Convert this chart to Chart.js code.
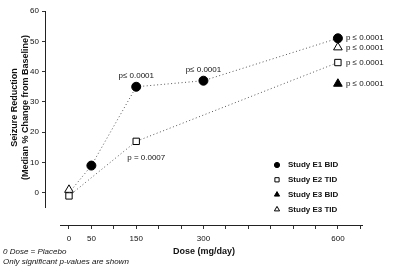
<!DOCTYPE html>
<html lang="en">
<head>
  <meta charset="UTF-8" />
  <title>Seizure Reduction by Dose</title>
  <style>
    body { margin: 0; background: #fff; }
    #wrap { width: 400px; height: 274px; }
  </style>
</head>
<body>
  <div id="wrap"><canvas id="doseChart" width="400" height="274"></canvas></div>

  <script src="https://cdn.jsdelivr.net/npm/chart.js"></script>
  <script>
    // values
    const doses = [0, 50, 150, 300, 600];
    const e1Bid = [0, 9, 35, 37, 51];
    const e2Tid = [-1, null, 17, null, 43];
    const e3Bid = [null, null, null, null, 36];
    const e3Tid = [1, null, null, null, 48];
    const seriesNames = ['Study E1 BID', 'Study E2 TID', 'Study E3 BID', 'Study E3 TID'];
    const yTicks = [0, 10, 20, 30, 40, 50, 60];
    const xTicks = [0, 50, 100, 150, 200, 250, 300, 350, 400, 450, 500, 550, 600, 650];
    const xLabels = [0, 50, 150, 300, 600];
    const yTitle = ['Seizure Reduction', '(Median % Change from Baseline)'];
    const footnotes = ['0 Dose = Placebo', 'Only significant p-values are shown'];
    // [series, dose, text]
    const pValues = [
      [0, 150, 'p\u2264 0.0001'],
      [0, 300, 'p\u2264 0.0001'],
      [1, 150, 'p = 0.0007'],
      [0, 600, 'p \u2264 0.0001'],
      [3, 600, 'p \u2264 0.0001'],
      [1, 600, 'p \u2264 0.0001'],
      [2, 600, 'p \u2264 0.0001']
    ];

    const FONT = 'Arial, "Liberation Sans", sans-serif';
    const toPoints = arr => doses.map((d, i) => ({ x: d, y: arr[i] })).filter(p => p.y !== null);

    const markers = [
      { pointStyle: 'circle', radius: 4.5, fill: '#000' },
      { pointStyle: 'rect', radius: 4.5, fill: '#fff' },
      { pointStyle: 'triangle', radius: 5, fill: '#000' },
      { pointStyle: 'triangle', radius: 5, fill: '#fff' }
    ];
    const seriesData = [e1Bid, e2Tid, e3Bid, e3Tid];

    const datasets = seriesData.map((arr, s) => ({
      label: seriesNames[s],
      data: toPoints(arr),
      showLine: s < 2,
      spanGaps: true,
      borderColor: '#555',
      borderWidth: 1,
      borderDash: [1, 2.5],
      pointStyle: markers[s].pointStyle,
      // the E1 line starts at placebo, where no marker is shown
      pointRadius: s === 0 ? toPoints(arr).map(p => p.x === 0 ? 0 : markers[s].radius) : markers[s].radius,
      pointBackgroundColor: markers[s].fill,
      pointBorderColor: '#000',
      pointBorderWidth: 1
    }));

    const extras = {
      id: 'extras',
      beforeDatasetsDraw(chart) {
        const { ctx, scales: { x, y } } = chart;
        ctx.save();
        ctx.strokeStyle = '#222';
        ctx.lineWidth = 1;
        ctx.beginPath();
        // y axis stops short of the x axis, x axis starts right of the y axis
        const ax = Math.round(x.left) + 0.5;
        ctx.moveTo(ax, y.getPixelForValue(60));
        ctx.lineTo(ax, y.getPixelForValue(-5));
        const ay = Math.round(y.bottom) + 0.5;
        ctx.moveTo(x.getPixelForValue(-20), ay);
        ctx.lineTo(x.getPixelForValue(656), ay);
        ctx.stroke();

        // y title, centred on the drawn part of the y axis
        ctx.fillStyle = '#111';
        ctx.font = 'bold 9px ' + FONT;
        ctx.textAlign = 'center';
        ctx.textBaseline = 'middle';
        ctx.translate(15, (y.getPixelForValue(60) + y.getPixelForValue(-5)) / 2 - 2);
        ctx.rotate(-Math.PI / 2);
        yTitle.forEach((t, i) => ctx.fillText(t, 0, i * 11));
        ctx.restore();
      },
      afterDraw(chart) {
        const { ctx, scales: { x, y } } = chart;
        ctx.save();
        ctx.fillStyle = '#111';
        ctx.font = '8px ' + FONT;
        ctx.textBaseline = 'middle';
        pValues.forEach(([s, dose, text]) => {
          const v = seriesData[s][doses.indexOf(dose)];
          const px = x.getPixelForValue(dose);
          const py = y.getPixelForValue(v);
          if (dose === 600) {
            ctx.textAlign = 'left';
            ctx.fillText(text, px + 8, py);
          } else if (s === 1) {
            ctx.textAlign = 'left';
            ctx.fillText(text, px - 9, py + 16);
          } else {
            ctx.textAlign = 'center';
            ctx.fillText(text, px, py - 11);
          }
        });

        // legend
        const lx = 277, ly = 165, step = 14.8;
        seriesNames.forEach((name, s) => {
          const cy = ly + s * step;
          ctx.fillStyle = markers[s].fill;
          ctx.strokeStyle = '#000';
          ctx.lineWidth = 1;
          Chart.helpers.drawPoint(ctx, { pointStyle: markers[s].pointStyle, radius: s === 0 ? 2.6 : 3, borderWidth: 1, rotation: 0 }, lx, cy);
          ctx.fillStyle = '#111';
          ctx.textAlign = 'left';
          ctx.font = 'bold 8px ' + FONT;
          ctx.fillText(name, lx + 11, cy);
        });

        // footnotes
        ctx.font = 'italic 8px ' + FONT;
        ctx.textAlign = 'left';
        footnotes.forEach((t, i) => ctx.fillText(t, 3, 252 + i * 10));
        ctx.restore();
      }
    };

    new Chart(document.getElementById('doseChart'), {
      type: 'scatter',
      data: { datasets },
      plugins: [extras],
      options: {
        responsive: false,
        animation: false,
        devicePixelRatio: 1,
        layout: { padding: { left: 2, top: 11, right: 37, bottom: 0 } },
        plugins: { legend: { display: false }, tooltip: { enabled: false } },
        scales: {
          x: {
            type: 'linear',
            min: -53.5,
            max: 656,
            afterBuildTicks: s => { s.ticks = xTicks.map(v => ({ value: v })); },
            afterFit: s => { s.height = 49; },
            border: { display: false },
            grid: { drawOnChartArea: false, tickLength: 4, color: '#333' },
            ticks: {
              padding: 5,
              maxRotation: 0,
              autoSkip: false,
              color: '#111',
              font: { family: FONT, size: 8 },
              callback: v => xLabels.includes(v) ? String(v) : ''
            },
            title: {
              display: true,
              text: 'Dose (mg/day)',
              color: '#111',
              font: { family: FONT, size: 9, weight: 'bold' },
              padding: { top: 0, bottom: 16.6 }
            }
          },
          y: {
            min: -10.6,
            max: 60,
            afterBuildTicks: s => { s.ticks = yTicks.map(v => ({ value: v })); },
            afterFit: s => { s.width = 43; },
            border: { display: false },
            grid: { drawOnChartArea: false, tickLength: 3, color: '#333' },
            ticks: {
              padding: 3,
              color: '#111',
              font: { family: FONT, size: 8 }
            }
          }
        }
      }
    });
  </script>
</body>
</html>
